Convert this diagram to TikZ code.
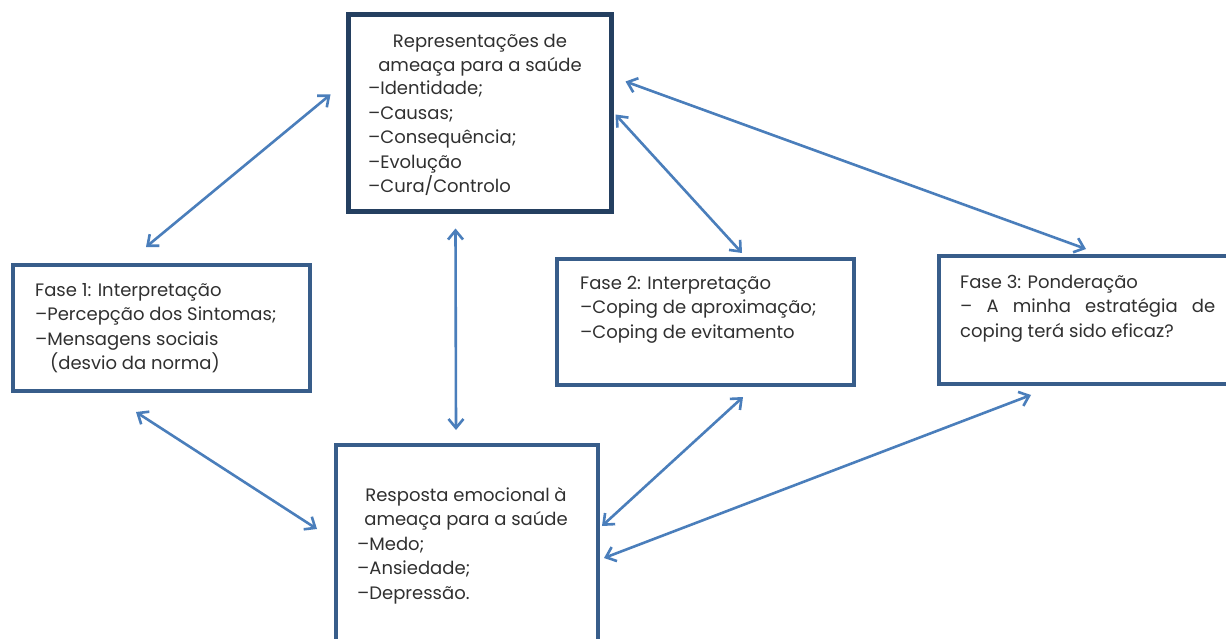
\documentclass[tikz,border=0pt]{standalone}
\usepackage{fontspec}
\setmainfont{Poppins}
\usetikzlibrary{arrows.meta,calc}
\definecolor{navy}{HTML}{243F60}
\definecolor{boxblue}{HTML}{385D8A}
\definecolor{arrblue}{HTML}{4A7EBB}
\definecolor{txt}{HTML}{303030}
\begin{document}
\begin{tikzpicture}[x=1pt,y=-1pt,
  box/.style={draw=boxblue,line width=4pt,fill=white,minimum width=#1,inner sep=0pt},
  txtnode/.style={inner sep=0pt,text=txt,font=\fontsize{18}{24.5}\selectfont},
  link/.style={draw=arrblue,line width=2.6pt,{Straight Barb[length=9pt,width=15pt,line width=2.6pt]}-{Straight Barb[length=9pt,width=15pt,line width=2.6pt]}}]
\useasboundingbox (0,0) rectangle (1226,639);
\clip (0,0) rectangle (1226,639);
\fill[white] (0,0) rectangle (1226,639);
% boxes
\node[box=263pt,draw=navy,line width=5pt,minimum height=197pt] (R) at (479.5,113.5) {};
\node[box=297pt,minimum height=126pt] (F1) at (161.5,328) {};
\node[box=297pt,minimum height=126pt] (F2) at (705.5,322) {};
\node[box=301pt,minimum height=128pt] (F3) at (1089.5,320) {};
\node[box=262pt,minimum height=255pt] (E) at (467,572.5) {};
% texts (anchored at the baseline of the last line)
\node[txtnode,align=center,anchor=base] (Rt) at (480,72) {Representações de\\ameaça para a saúde};
\node[txtnode,align=left,anchor=base west] (Rl) at (368,193) {–Identidade;\\–Causas;\\–Consequência;\\–Evolução\\–Cura/Controlo};
\node[txtnode,align=left,anchor=base west] (F1t) at (35,369.5) {Fase 1: Interpretação\\–Percepção dos Sintomas;\\–Mensagens sociais\\\hspace*{15pt}(desvio da norma)};
\node[txtnode,align=left,anchor=base west] (F2t) at (580,338) {Fase 2: Interpretação\\–Coping de aproximação;\\–Coping de evitamento};
\node[txtnode,align=left,anchor=base west] (F3t) at (960,337) {Fase 3: Ponderação\\\makebox[255pt][s]{– A minha estratégia de}\\coping terá sido eficaz?};
\node[txtnode,align=center,anchor=base] (Et) at (466,525.5) {Resposta emocional à\\ameaça para a saúde};
\node[txtnode,align=left,anchor=base west] (El) at (357,599) {–Medo;\\–Ansiedade;\\–Depressão.};
% connectors
\draw[link] ([shift={(-15,82)}]R.north west) -- ([shift={(135,-16)}]F1.north west);
\draw[link] ([shift={(110,14)}]R.south west) -- ([shift={(122,-13)}]E.north west);
\draw[link] ([shift={(2,102)}]R.north east) -- ([shift={(187,-4)}]F2.north west);
\draw[link] ([shift={(12,69)}]R.north east) -- ([shift={(149,-5)}]F3.north west);
\draw[link] ([shift={(125,19)}]F1.south west) -- ([shift={(-17,86)}]E.north west);
\draw[link] ([shift={(188,10)}]F2.south west) -- ([shift={(2,83)}]E.north east);
\draw[link] ([shift={(94,9)}]F3.south west) -- ([shift={(4,115)}]E.north east);
\end{tikzpicture}
\end{document}
